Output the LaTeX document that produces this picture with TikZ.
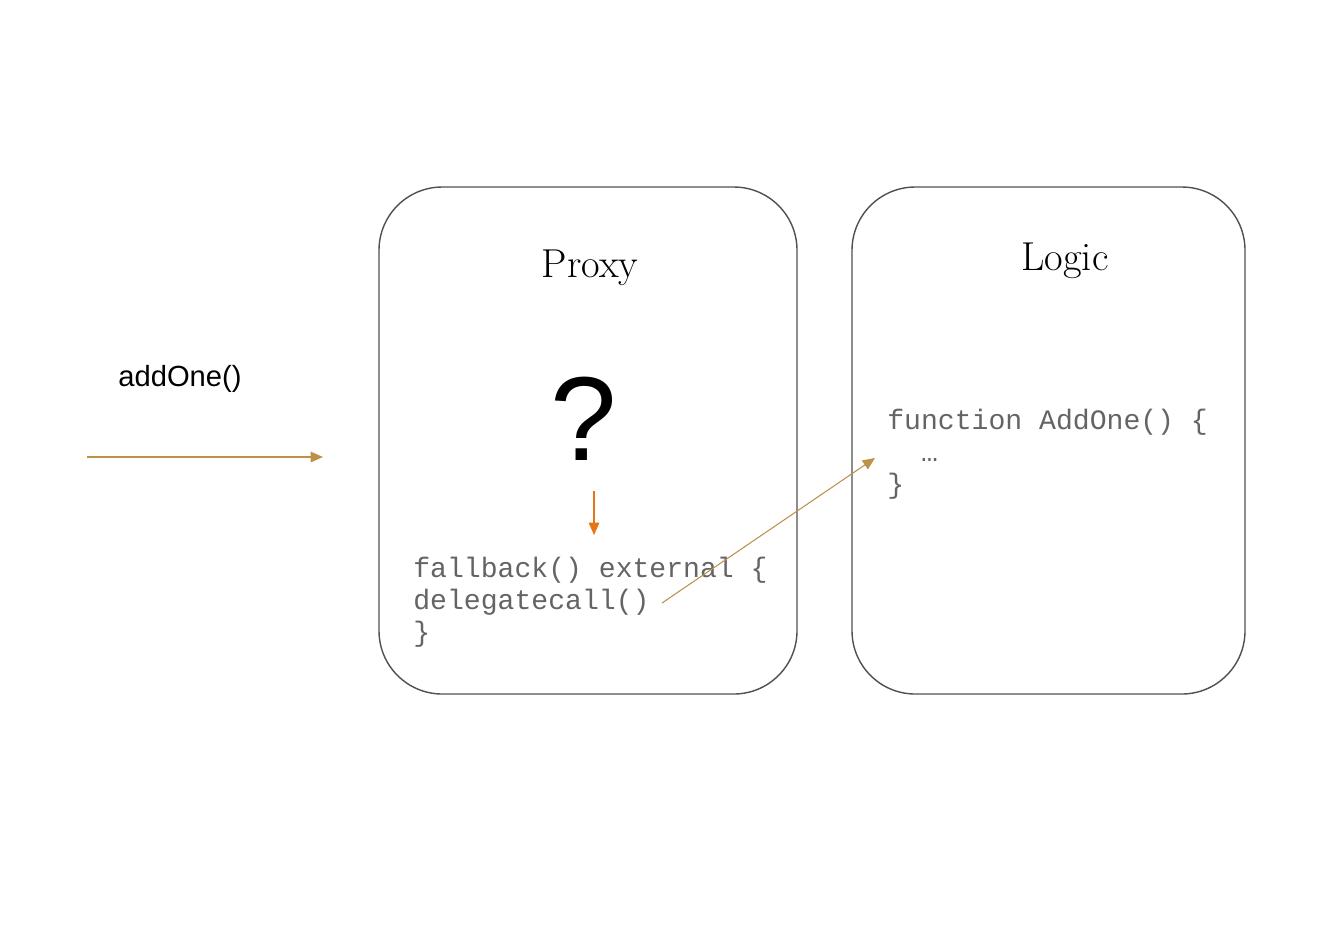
\documentclass[tikz,border=0pt]{standalone}
\usepackage{fontspec}
\newfontfamily\sansfont{Liberation Sans}
\newfontfamily\codefont{Liberation Mono}
\usetikzlibrary{arrows.meta}
\definecolor{callbrown}{RGB}{190,145,75}
\definecolor{steporange}{RGB}{228,118,22}
\definecolor{boxgray}{RGB}{80,80,80}
\definecolor{codegray}{RGB}{100,100,100}
\tikzset{
  contract/.style={draw=boxgray, line width=0.8pt, rounded corners=36pt, inner sep=0pt},
  ctitle/.style={font=\fontsize{23}{26}\selectfont, inner sep=0pt},
  code/.style={font=\codefont\fontsize{16}{18.1}\selectfont, text=codegray, align=left, anchor=west, inner sep=0pt},
  callarrow/.style={draw=callbrown, line width=0.6pt, -{Triangle[length=7pt,width=6pt]}}
}
\begin{document}
\begin{tikzpicture}[x=0.02cm, y=-0.02cm]
  \useasboundingbox[fill=white] (0,0) rectangle (1334,938);

  \node[contract, minimum width=418*0.02cm, minimum height=507*0.02cm] (proxy) at (588,440.5) {};
  \node[contract, minimum width=393*0.02cm, minimum height=507*0.02cm] (logic) at (1048.5,440.5) {};

  \node[ctitle] (proxytitle) at (590,268) {Proxy};
  \node[ctitle] (logictitle) at (1065,261) {Logic};

  \node[font=\sansfont\fontsize{16.6}{20}\selectfont, inner sep=0pt] (call) at (180,379) {addOne()};
  \node[font=\sansfont\fontsize{68}{70}\selectfont, inner sep=0pt] (ask) at (584,419) {?};

  \node[code] (fallback) at (413,602) {fallback() external \{\\delegatecall()\\\}};
  \node[code] (addone) at (887,454) {function AddOne() \{\\\phantom{xx}…\\\}};

  \coordinate (in) at (87,457);
  \coordinate (inend) at (323,457);
  \coordinate (asktop) at (594,491);
  \coordinate (askend) at (594,535);
  \coordinate (dcall) at (662,603);
  \coordinate (target) at (875,458);

  \draw[callarrow] (in) -- (inend);
  \draw[callarrow, draw=steporange] (asktop) -- (askend);
  \draw[callarrow] (dcall) -- (target);
\end{tikzpicture}
\end{document}
